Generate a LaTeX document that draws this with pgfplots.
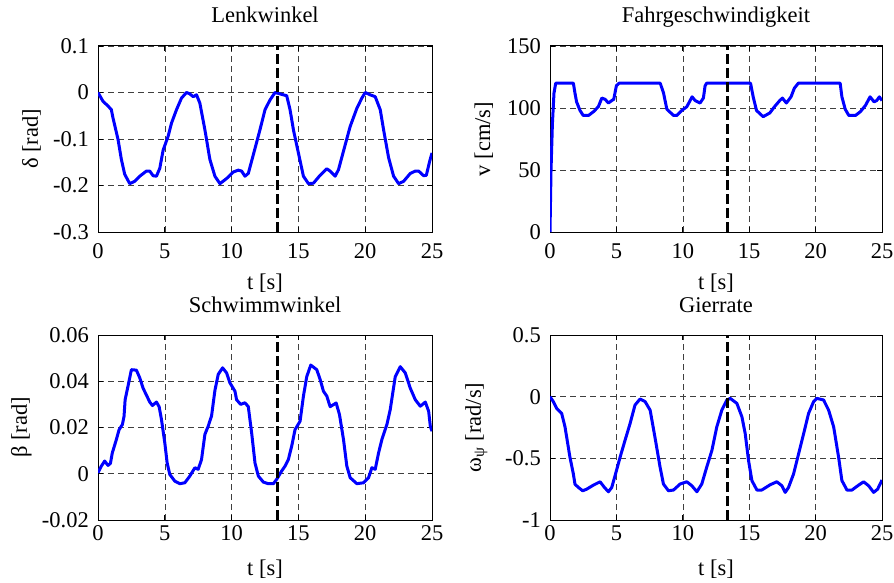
\documentclass[border=0pt]{standalone}
\usepackage{fontspec}
\setmainfont{Liberation Serif}
\usepackage{pgfplots}
\pgfplotsset{compat=1.18}
\definecolor{mblue}{RGB}{0,0,255}

\pgfplotsset{
  mstyle/.style={
    scale only axis, width=334pt, height=186pt,
    xmin=0, xmax=25, xtick={0,5,10,15,20,25}, xticklabels={0,5,10,15,20,25},
    scaled x ticks=false, scaled y ticks=false, no markers,
    grid=major,
    major grid style={black!75, line width=0.6pt, dash pattern=on 6pt off 4pt},
    tick align=inside, major tick length=5pt,
    tick style={black, line width=0.8pt},
    axis line style={black, line width=1pt},
    title style={at={(0.5,1)}, anchor=base, yshift=17pt, inner sep=0pt},
    xlabel={t [s]},
    xlabel style={at={(axis description cs:0.5,0)}, anchor=base, yshift=-57pt, inner sep=0pt},
    ylabel style={at={(axis description cs:-0.18,0.5)}, anchor=base, inner sep=0pt},
    yticklabel style={anchor=east, inner sep=0pt, xshift=-9pt},
    xticklabel style={anchor=base, inner sep=0pt, yshift=-26pt},
    every axis plot/.append style={mblue, line width=3pt, line join=round, mark=none},
  },
  vline/.style={black, line width=3pt, dash pattern=on 10pt off 4pt, mark=none},
}

\begin{document}
\begin{tikzpicture}[font=\fontsize{22.5}{26}\selectfont]
\path[use as bounding box] (0,0) rectangle (894pt,582pt);

% Lenkwinkel
\begin{axis}[mstyle, at={(98pt,350pt)}, anchor=south west,
  title={Lenkwinkel}, ylabel={δ [rad]},
  ymin=-0.3, ymax=0.1, ytick={-0.3,-0.2,-0.1,0,0.1}, yticklabels={-0.3,-0.2,-0.1,0,0.1}]
\addplot coordinates {
(0,0) (0.375,-0.019) (0.75,-0.029) (1.0,-0.037) (1.125,-0.055) (1.5,-0.101) (1.75,-0.144) (2.0,-0.176) (2.375,-0.196) (2.75,-0.191) (3.125,-0.18) (3.625,-0.169) (3.875,-0.169) (4.125,-0.179) (4.375,-0.18) (4.625,-0.163) (4.875,-0.124) (5.25,-0.094) (5.5,-0.066) (5.875,-0.037) (6.25,-0.012) (6.625,0) (6.875,-0.003) (7.125,-0.009) (7.375,-0.005) (7.625,-0.023) (8.0,-0.08) (8.375,-0.144) (8.75,-0.18) (9.125,-0.196) (9.625,-0.185) (10.125,-0.171) (10.5,-0.167) (10.75,-0.169) (11.0,-0.18) (11.25,-0.174) (11.625,-0.134) (12.125,-0.08) (12.5,-0.037) (12.875,-0.016) (13.25,0) (13.625,-0.003) (14.125,-0.007) (14.375,-0.037) (14.625,-0.08) (15.0,-0.13) (15.375,-0.18) (15.75,-0.196) (16.125,-0.195) (16.625,-0.178) (17.125,-0.164) (17.375,-0.169) (17.75,-0.18) (18.0,-0.166) (18.375,-0.126) (18.875,-0.073) (19.375,-0.034) (19.75,-0.012) (20.0,0) (20.375,-0.005) (20.75,-0.009) (21.125,-0.037) (21.375,-0.08) (21.75,-0.14) (22.125,-0.18) (22.5,-0.196) (22.875,-0.191) (23.375,-0.174) (23.75,-0.169) (24.0,-0.169) (24.375,-0.179) (24.575,-0.178) (24.825,-0.148) (25,-0.13)
};
\addplot[vline] coordinates {(13.4,-0.3) (13.4,0.1)};
\end{axis}

% Fahrgeschwindigkeit
\begin{axis}[mstyle, width=332pt, at={(550pt,350pt)}, anchor=south west,
  title={Fahrgeschwindigkeit}, ylabel={v [cm/s]},
  ymin=0, ymax=150, ytick={0,50,100,150}, yticklabels={0,50,100,150}]
\addplot coordinates {
(0,0) (0.075,49) (0.18,87) (0.3,112) (0.43,120) (1.76,120) (1.88,112) (2.0,105) (2.26,98) (2.5,94) (2.9,94) (3.27,97) (3.64,101) (3.9,108) (4.15,107) (4.4,104) (4.65,106) (4.8,107) (5.0,118) (5.2,120) (8.3,120) (8.55,112) (8.8,99) (9.3,94) (9.55,94) (9.92,98) (10.3,101) (10.7,109) (10.93,106) (11.3,104) (11.55,108) (11.68,118) (11.8,120) (15.1,120) (15.3,109) (15.55,98) (16.05,93) (16.55,96) (16.9,101) (17.3,106) (17.5,108) (17.8,104) (18.15,109) (18.4,116) (18.7,120) (21.85,120) (21.98,109) (22.23,99) (22.5,94) (23.0,94) (23.37,97) (23.75,102) (24.1,109) (24.4,105) (24.6,106) (24.8,109) (25,106)
};
\addplot[vline] coordinates {(13.4,0) (13.4,150)};
\end{axis}

% Schwimmwinkel
\begin{axis}[mstyle, height=185pt, at={(98pt,62pt)}, anchor=south west,
  title={Schwimmwinkel}, ylabel={β [rad]},
  ylabel style={at={(axis description cs:-0.213,0.5)}},
  xticklabel style={yshift=6pt},
  xlabel style={yshift=2pt},
  ymin=-0.02, ymax=0.06, ytick={-0.02,0,0.02,0.04,0.06}, yticklabels={-0.02,0,0.02,0.04,0.06}]
\addplot coordinates {
(0,0.0004) (0.25,0.0033) (0.5,0.0055) (0.75,0.0036) (0.93,0.0045) (1.07,0.009) (1.375,0.0148) (1.575,0.019) (1.825,0.0213) (1.95,0.0249) (2.03,0.032) (2.25,0.038) (2.5,0.045) (2.875,0.0448) (3.125,0.0415) (3.375,0.037) (3.625,0.034) (3.875,0.031) (4.075,0.0295) (4.375,0.031) (4.575,0.029) (4.75,0.0235) (5.0,0.0134) (5.175,0.0047) (5.375,-0.0003) (5.75,-0.0032) (6.125,-0.0043) (6.5,-0.0039) (6.875,-0.001) (7.25,0.0026) (7.5,0.0019) (7.75,0.0062) (8.0,0.017) (8.25,0.0206) (8.5,0.025) (8.75,0.036) (9.0,0.043) (9.325,0.0458) (9.625,0.0436) (9.875,0.0393) (10.25,0.0357) (10.375,0.032) (10.675,0.03) (11.0,0.0307) (11.25,0.029) (11.5,0.0177) (11.75,0.0047) (12.0,-0.001) (12.375,-0.0036) (12.75,-0.0043) (13.125,-0.0043) (13.375,-0.0024) (13.75,0.0012) (14.0,0.0033) (14.25,0.0062) (14.5,0.012) (14.75,0.0191) (15.125,0.0227) (15.375,0.0335) (15.625,0.042) (15.925,0.047) (16.375,0.045) (16.625,0.0408) (16.875,0.0357) (17.125,0.0336) (17.375,0.029) (17.825,0.0306) (18.075,0.0256) (18.375,0.0148) (18.625,0.0033) (18.875,-0.0017) (19.375,-0.0043) (19.875,-0.0039) (20.25,-0.0017) (20.5,0.0026) (20.75,0.0019) (21.0,0.009) (21.25,0.0148) (21.625,0.0213) (21.875,0.0278) (22.25,0.042) (22.625,0.0463) (23.0,0.0436) (23.375,0.037) (23.75,0.032) (24.125,0.0292) (24.5,0.031) (24.75,0.027) (24.875,0.0205) (25,0.0184)
};
\addplot[vline] coordinates {(13.4,-0.02) (13.4,0.06)};
\end{axis}

% Gierrate
\begin{axis}[mstyle, width=332pt, height=185pt, at={(550pt,62pt)}, anchor=south west,
  title={Gierrate}, ylabel={ω\textsubscript{ψ} [rad/s]},
  ylabel style={at={(axis description cs:-0.208,0.5)}},
  xticklabel style={yshift=6pt},
  xlabel style={yshift=2pt},
  ymin=-1, ymax=0.5, ytick={-1,-0.5,0,0.5}, yticklabels={-1,-0.5,0,0.5}]
\addplot coordinates {
(0,0) (0.25,-0.04) (0.5,-0.095) (0.88,-0.136) (1.13,-0.245) (1.5,-0.49) (1.76,-0.627) (1.88,-0.71) (2.14,-0.736) (2.46,-0.763) (2.76,-0.75) (3.27,-0.717) (3.77,-0.69) (4.1,-0.736) (4.4,-0.771) (4.65,-0.736) (4.9,-0.64) (5.28,-0.49) (5.65,-0.354) (6.03,-0.218) (6.4,-0.068) (6.78,-0.019) (7.16,-0.04) (7.54,-0.109) (7.9,-0.327) (8.29,-0.572) (8.54,-0.708) (8.92,-0.763) (9.3,-0.757) (9.8,-0.708) (10.3,-0.69) (10.68,-0.722) (11.06,-0.771) (11.43,-0.708) (11.8,-0.572) (12.19,-0.436) (12.56,-0.245) (12.94,-0.109) (13.32,-0.027) (13.57,-0.014) (14.07,-0.054) (14.45,-0.163) (14.7,-0.3) (14.95,-0.518) (15.2,-0.68) (15.58,-0.757) (15.95,-0.757) (16.58,-0.714) (17.08,-0.69) (17.46,-0.722) (17.71,-0.776) (17.96,-0.736) (18.34,-0.627) (18.72,-0.463) (19.1,-0.3) (19.47,-0.136) (19.85,-0.04) (20.1,-0.014) (20.6,-0.027) (20.98,-0.109) (21.36,-0.245) (21.73,-0.49) (21.98,-0.68) (22.36,-0.757) (22.74,-0.757) (23.24,-0.717) (23.62,-0.69) (23.99,-0.722) (24.37,-0.776) (24.67,-0.75) (25,-0.676)
};
\addplot[vline] coordinates {(13.4,-1) (13.4,0.5)};
\end{axis}
\end{tikzpicture}
\end{document}
